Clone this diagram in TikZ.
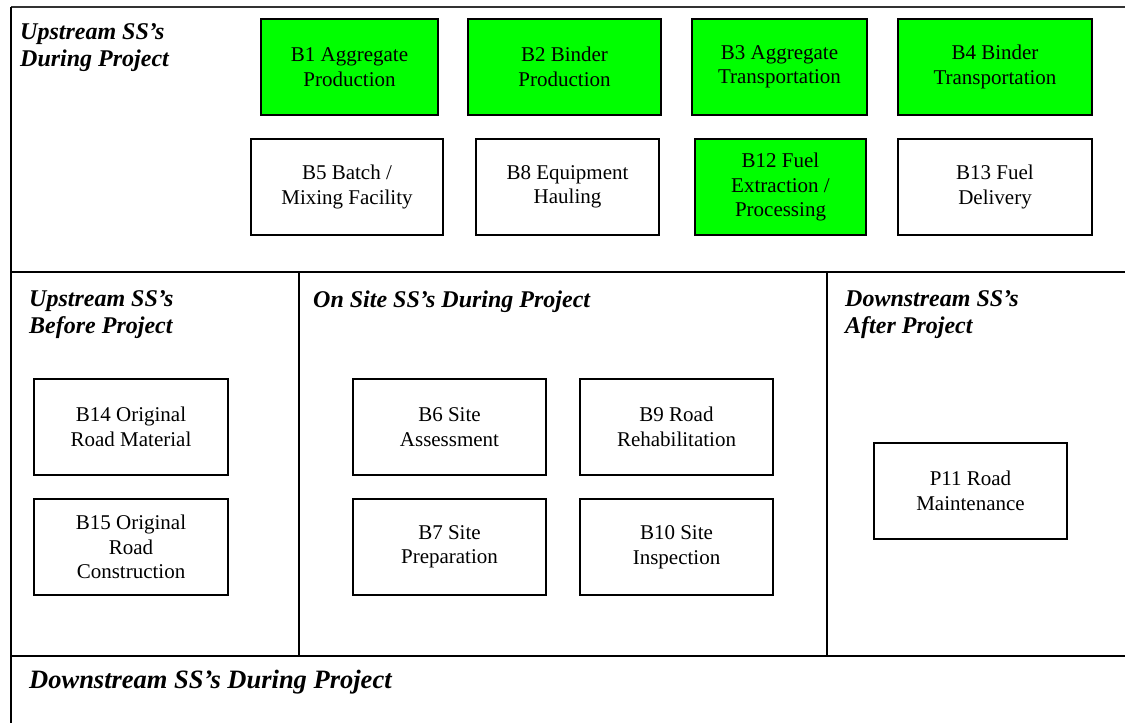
\documentclass[tikz,border=0pt]{standalone}
\usepackage{fontspec}
\setmainfont{Liberation Serif}
\definecolor{boxgreen}{HTML}{00FF00}
\tikzset{
  blk/.style={draw=black, line width=1.4pt, align=center, inner sep=0pt,
    font=\fontsize{21}{24.5}\selectfont},
  grn/.style={blk, fill=boxgreen},
  wht/.style={blk, fill=white},
  ttl/.style={anchor=north west, inner sep=0pt, align=left,
    font=\fontsize{24}{27}\selectfont\bfseries\itshape},
  bigttl/.style={anchor=north west, inner sep=0pt, align=left,
    font=\fontsize{26.5}{29}\selectfont\bfseries\itshape},
  frameline/.style={line width=1.3pt, draw=black}
}
\begin{document}
\begin{tikzpicture}[x=1pt, y=-1pt]
\path[use as bounding box, fill=white] (0,0) rectangle (1125,723);
\begin{scope}
\clip (0,0) rectangle (1125,723);
\draw[frameline, draw=black!80] (11,7) -- (1140,7);
\draw[frameline] (11,740) -- (11,7);
\draw[frameline] (11,272) -- (1140,272);
\draw[frameline] (11,656) -- (1140,656);
\draw[frameline] (299,272) -- (299,656);
\draw[frameline] (827,272) -- (827,656);
\end{scope}

% titles
\node[ttl] (t1) at (20,23.8) {Upstream SS’s\\During Project};
\node[ttl] (t2) at (29,290.8) {Upstream SS’s\\Before Project};
\node[ttl] (t3) at (313,290.8) {On Site SS’s During Project};
\node[ttl] (t4) at (845,290.8) {Downstream SS’s\\After Project};
\node[bigttl] (t5) at (29,670) {Downstream SS’s During Project};

% upstream during project
\node[grn, minimum width=177pt, minimum height=96pt] (b1) at (349.5,67) {B1 Aggregate\\Production};
\node[grn, minimum width=193pt, minimum height=96pt] (b2) at (564.5,67) {B2 Binder\\Production};
\node[grn, minimum width=175pt, minimum height=96pt] (b3) at (779.5,67) {B3 Aggregate\\Transportation};
\node[grn, minimum width=194pt, minimum height=96pt] (b4) at (995,67) {B4 Binder\\Transportation};
\node[wht, minimum width=192pt, minimum height=96pt] (b5) at (347,187) {B5 Batch /\\Mixing Facility};
\node[wht, minimum width=183pt, minimum height=96pt] (b8) at (567.5,187) {B8 Equipment\\Hauling};
\node[grn, minimum width=171pt, minimum height=96pt] (b12) at (780.5,187) {B12 Fuel\\Extraction /\\Processing};
\node[wht, minimum width=194pt, minimum height=96pt] (b13) at (995,187) {B13 Fuel\\Delivery};

% before project
\node[wht, minimum width=194pt, minimum height=96pt] (b14) at (131,427) {B14 Original\\Road Material};
\node[wht, minimum width=194pt, minimum height=96pt] (b15) at (131,547) {B15 Original\\Road\\Construction};

% on site
\node[wht, minimum width=193pt, minimum height=96pt] (b6) at (449.5,427) {B6 Site\\Assessment};
\node[wht, minimum width=193pt, minimum height=96pt] (b7) at (449.5,547) {B7 Site\\Preparation};
\node[wht, minimum width=193pt, minimum height=96pt] (b9) at (676.5,427) {B9 Road\\Rehabilitation};
\node[wht, minimum width=193pt, minimum height=96pt] (b10) at (676.5,547) {B10 Site\\Inspection};

% after project
\node[wht, minimum width=193pt, minimum height=96pt] (p11) at (970.5,491) {P11 Road\\Maintenance};
\end{tikzpicture}
\end{document}
